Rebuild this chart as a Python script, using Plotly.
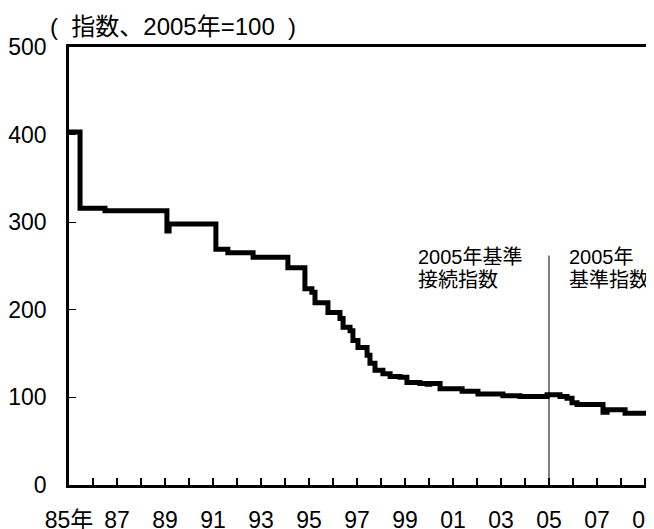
import plotly.graph_objects as go

# 指数（2005年=100）の推移、年は小数表記
years = [1985.00, 1985.46, 1986.50, 1989.08, 1989.17, 1991.12, 1991.62, 1992.67,
         1994.12, 1994.83, 1995.12, 1995.25, 1995.79, 1996.29, 1996.42, 1996.71,
         1996.83, 1997.04, 1997.42, 1997.54, 1997.75, 1998.08, 1998.38, 1998.79,
         1999.08, 1999.62, 1999.92, 2000.04, 2000.46, 2001.38, 2002.04, 2003.08,
         2003.79, 2004.92, 2005.46, 2005.75, 2005.96, 2006.17, 2007.25, 2007.42,
         2008.17, 2009.40]
index_values = [403, 316, 313, 290, 298, 269, 265, 260,
                248, 224, 220, 208, 197, 190, 180, 176,
                165, 157, 148, 139, 131, 127, 124, 123,
                117, 116, 115, 116, 110, 107, 104, 102,
                101, 103, 101, 99, 94, 92, 83, 86,
                82, 81]

tick_years = list(range(1985, 2010))
tick_text = ["85年", "", "87", "", "89", "", "91", "", "93", "", "95", "", "97", "",
             "99", "", "01", "", "03", "", "05", "", "07", "", "09"]

FONT = "Liberation Sans, Arial, 'Noto Sans CJK JP', sans-serif"
FS = 23

fig = go.Figure()
fig.add_trace(go.Scatter(
    x=years, y=index_values,
    mode="lines",
    line=dict(color="black", width=5, shape="hv"),
    showlegend=False,
))

# 2005年の区切り線
fig.add_shape(type="line", x0=2005, x1=2005, y0=0, y1=262,
              xref="x", yref="y", line=dict(color="black", width=1))

# page body has an 8px margin, so the figure is 8px smaller and shifted
OFF = 8
labels = [
    (1999.45, 257, "2005年基準"),
    (1999.45, 280, "接続指数"),
    (2005.75, 257, "2005年"),
    (2005.75, 280, "基準指数"),
]
for xv, ypx, txt in labels:
    fig.add_annotation(x=xv, y=(484.6 - ypx) / 0.876, xref="x", yref="y",
                       text=txt, showarrow=False, xanchor="left", yanchor="middle",
                       font=dict(size=20, color="black"))

fig.add_annotation(x=-0.036, y=(485 - 27) / 438, xref="paper", yref="paper",
                   text="(&nbsp; 指数、2005年=100&nbsp; )", showarrow=False,
                   xanchor="left", yanchor="middle",
                   font=dict(size=24, color="black"))

fig.update_layout(
    width=654 - OFF, height=529 - OFF,
    margin=dict(l=69 - OFF, r=0, t=47 - OFF, b=44, autoexpand=False),
    paper_bgcolor="white", plot_bgcolor="white",
    font=dict(family=FONT, size=FS, color="black"),
)
fig.update_xaxes(
    range=[1985, 2009.375], automargin=False,
    tickvals=tick_years, ticktext=tick_text, ticklabeloverflow="allow",
    ticks="inside", ticklen=7, tickwidth=2, tickcolor="black",
    showline=True, linecolor="black", linewidth=3, mirror=True,
    showgrid=False, zeroline=False, ticklabelstandoff=12,
)
fig.update_yaxes(
    range=[0, 500], tickvals=[0, 100, 200, 300, 400, 500], automargin=False,
    ticks="inside", ticklen=7, tickwidth=1, tickcolor="black",
    showline=True, linecolor="black", linewidth=2.5,
    showgrid=False, zeroline=False, ticklabelstandoff=15,
)

fig.write_html("out.html")
